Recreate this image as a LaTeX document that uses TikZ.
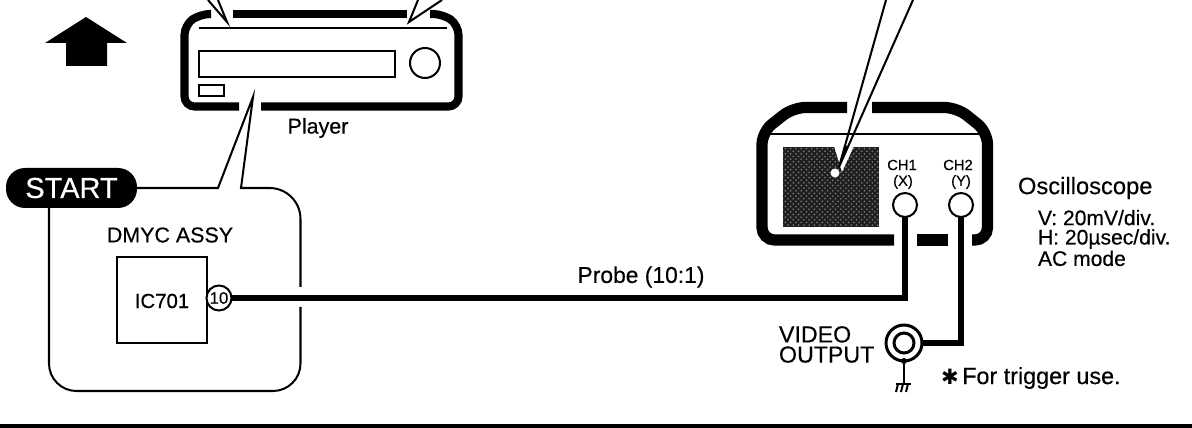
\documentclass[tikz,border=0pt]{standalone}
\usepackage{fontspec}
\setmainfont{Liberation Sans}[FakeBold=0.35]
\newfontfamily\symfont{DejaVu Sans}
\usetikzlibrary{arrows.meta,positioning,patterns}
\begin{document}
\begin{tikzpicture}[x=0.02cm,y=-0.02cm,every node/.style={inner sep=0pt,outer sep=0pt}]
\tikzstyle{lab}=[font=\fontsize{12.2}{11}\selectfont, align=left]
\tikzstyle{casing}=[line width=4.6pt, rounded corners=0.2cm]
\tikzstyle{scopecase}=[line width=6.4pt, rounded corners=0.25cm]
\tikzstyle{thin}=[line width=1.15pt]
\tikzstyle{wire}=[line width=3.3pt]
\tikzstyle{port}=[draw, circle, thin, fill=white, minimum size=0.48cm]
\useasboundingbox (0,0) rectangle (1192,428);
% up arrow
\fill (86,17) -- (127,43) -- (107,43) -- (107,66) -- (66,66) -- (66,43) -- (45,43) -- cycle;
% player
\draw[casing] (211,14) -- (200,14) -- (184.5,25) -- (184.5,106.5) -- (239,106.5);
\draw[casing] (261,106.5) -- (458.5,106.5) -- (458.5,25) -- (443,14) -- (430,14);
\draw[line width=4.6pt] (233,14) -- (407,14);
\draw[thin,line width=1.6pt] (199,28) -- (447,28);
\node[draw, thin, minimum width=3.92cm, minimum height=0.52cm] (tray) at (297,64) {};
\node[draw, thin, circle, minimum size=0.6cm] (knob) at (425,63) {};
\node[draw, thin, minimum width=0.5cm, minimum height=0.22cm] (standby) at (211.5,90.5) {};
\node[lab] (player) at (318,128) {Player};
\draw[thin] (208,0) -- (227,22) -- (218,0);
\draw[thin] (418,0) -- (409,22) -- (442,0);
% start callout
\node[fill=black, text=white, rounded corners=0.38cm, minimum width=2.62cm, minimum height=0.8cm, font=\fontsize{16.5}{16}\selectfont] (start) at (71.5,188) {START};
\draw[thin] (start.east) -- (218,188) -- (253,97) -- (241,188)
  [rounded corners=0.62cm] -- (300.5,188) -- (300.5,287);
\draw[thin, rounded corners=0.55cm] (300.5,307) -- (300.5,391) -- (49,391) -- (49,208);
\node[lab] (dmyc) at (170,235) {DMYC ASSY};
\node[draw, thin, minimum width=1.8cm, minimum height=1.72cm] (ic701) at (162,300) {};
\node[lab, font=\fontsize{11.6}{11}\selectfont] (icname) at (162,301) {IC701};
\node[port, minimum size=0.5cm, font=\fontsize{9.5}{9}\selectfont] (pin10) at (219,298) {10};
% oscilloscope
\draw[scopecase] (847,107.5) -- (793,107.5) -- (762,132) -- (762,240) -- (894,240);
\draw[scopecase] (972,240) -- (987.5,240) -- (987.5,132) -- (957,107.5) -- (872,107.5);
\draw[line width=6.4pt] (917,240) -- (948,240);
\draw[thin] (768,134) -- (981,134);
\node[minimum width=1.92cm, minimum height=1.6cm, fill=black!88, postaction={pattern=crosshatch dots, pattern color=black!50}] (screen) at (831,187) {};
\fill[white] (834,146) -- (854,146) -- (842,172) -- cycle;
\fill[white] (835,173) circle (0.09cm);
\draw[thin] (886,0) -- (839,167) -- (913,0);
\fill (844,146) -- (849,146) -- (839,167) -- cycle;
\node[lab, font=\fontsize{8.4}{8}\selectfont] (ch1) at (902,165) {CH1};
\node[lab, font=\fontsize{8.4}{8}\selectfont] (ch2) at (958,165) {CH2};
\node[lab, font=\fontsize{8.4}{8}\selectfont] (ch1x) at (903,182) {(X)};
\node[lab, font=\fontsize{8.4}{8}\selectfont] (ch2y) at (961,182) {(Y)};
\node[port] (ch1port) at (905,205) {};
\node[port] (ch2port) at (961,205) {};
\node[lab, font=\fontsize{13.5}{13}\selectfont, anchor=west] (scope) at (1018,188) {Oscilloscope};
\node[lab, font=\fontsize{12}{11}\selectfont, anchor=west] (setup) at (1038,238) {V: 20mV/div.\\H: 20µsec/div.\\AC mode};
% video output
\node[draw, circle, line width=1.7pt, minimum size=0.72cm] (jack) at (904,343) {};
\node[draw, circle, line width=1.7pt, minimum size=0.4cm] (jackin) at (904,343) {};
\node[lab, font=\fontsize{13.2}{11.5}\selectfont, anchor=west] (video) at (779,344.5) {VIDEO\\OUTPUT};
\node[lab, font=\fontsize{13.3}{13}\selectfont, anchor=west] (trigger) at (941,378) {{\symfont\fontsize{12}{12}\selectfont ✱}\hspace{-1.7pt} For trigger use.};
\coordinate (gnd) at (904,384);
\draw[thin] (jack) -- (gnd);
\fill (jack.south) circle (0.06cm);
\draw[thin] (896,384) -- (911,384);
\foreach \gx in {898,903,908} \draw[thin] (\gx,384) -- (\gx-2,392);
% wires
\draw[wire, line width=3.5pt] (pin10) -- (pin10 -| ch1port) -- (ch1port);
\draw[wire] (ch2port) |- (jack);
\draw[line width=2.4pt] (0,426) -- (1192,426);
\node[lab, font=\fontsize{13}{13}\selectfont] (probe) at (641,277) {Probe (10:1)};
\end{tikzpicture}
\end{document}
